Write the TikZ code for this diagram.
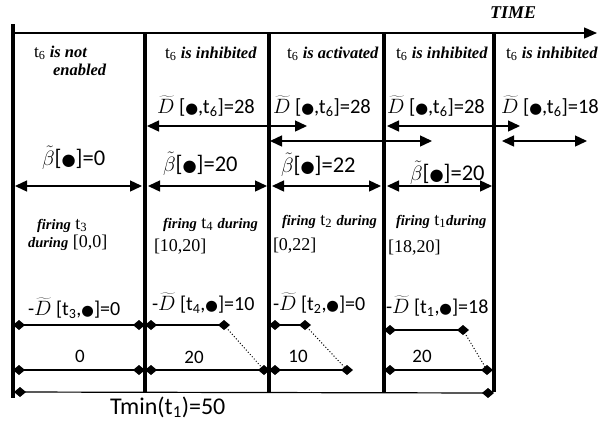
\documentclass[tikz,border=0pt]{standalone}
\usepackage{fontspec}
\usepackage{graphicx}
\setmainfont{Liberation Serif}
\setsansfont{Carlito}
\newfontfamily\symfont{DejaVu Sans}
\usetikzlibrary{arrows.meta}

% filled dot used inside the interval labels
\newcommand{\bul}{{\symfont\scalebox{0.72}{●}}}
\newcommand{\Dt}{$\widetilde{D}$}
\newcommand{\Bt}{$\tilde{\beta}$}
\newcommand{\headit}{\fontsize{16.5}{18}\selectfont\bfseries\itshape}
\newcommand{\fireit}{\fontsize{14.5}{16}\selectfont\bfseries\itshape}

\tikzset{
  bar/.style={line width=4.5pt},
  axis/.style={line width=1.3pt,-{Triangle[length=13pt,width=11pt]}},
  span/.style={line width=1.4pt,{Triangle[length=12pt,width=11pt]}-{Triangle[length=12pt,width=11pt]}},
  seg/.style={line width=1.2pt,{Diamond[length=12pt,width=10pt]}-{Diamond[length=12pt,width=10pt]}},
  link/.style={line width=1pt,dotted},
  lbl/.style={anchor=base west,inner sep=0pt,outer sep=0pt},
  head/.style={lbl,font=\fontsize{17.5}{19}\selectfont},
  dlbl/.style={lbl,font=\sffamily\fontsize{20.5}{22}\selectfont},
  blbl/.style={lbl,font=\sffamily\fontsize{22.5}{24}\selectfont},
  flbl/.style={lbl,font=\fontsize{18}{20}\selectfont},
  mlbl/.style={lbl,font=\sffamily\fontsize{20}{22}\selectfont},
  num/.style={anchor=base,inner sep=0pt,font=\sffamily\fontsize{19}{21}\selectfont},
}

\begin{document}
\begin{tikzpicture}[x=1pt,y=-1pt]
\useasboundingbox (0,0) rectangle (599,421);

% ---- time axis
\coordinate (ax0) at (13,33);
\coordinate (ax1) at (597,33);
\draw[axis] (ax0) -- (ax1);
\node[anchor=base,inner sep=0pt,font=\fontsize{18}{20}\selectfont\bfseries\itshape] (time) at (513,18) {TIME};

% ---- instants (thick vertical bars)
\coordinate (v0t) at (13,24);  \coordinate (v0b) at (13,398);
\coordinate (v1t) at (145,33); \coordinate (v1b) at (145,392);
\coordinate (v2t) at (269,33); \coordinate (v2b) at (269,392);
\coordinate (v3t) at (384,33); \coordinate (v3b) at (384,392);
\coordinate (v4t) at (494,33); \coordinate (v4b) at (494,392);
\foreach \v in {v0,v1,v2,v3,v4} \draw[bar] (\v t) -- (\v b);

% ---- state of t6 in each interval
\node[head] (h1) at (34,57) {t\textsubscript{6} {\headit is not}};
\node[lbl,font=\headit] (h1b) at (53,75) {enabled};
\node[head] (h2) at (165,58) {t\textsubscript{6} {\headit is inhibited}};
\node[head] (h3) at (287,58) {t\textsubscript{6} {\headit is activated}};
\node[head] (h4) at (396,58) {t\textsubscript{6} {\headit is inhibited}};
\node[head] (h5) at (506,58) {t\textsubscript{6} {\headit is inhibited}};

% ---- D~[., t6] labels and their spans
\node[dlbl] (d2) at (157,113) {\Dt\ [\bul,t\textsubscript{6}]=28};
\node[dlbl] (d3) at (273,113) {\Dt\ [\bul,t\textsubscript{6}]=28};
\node[dlbl] (d4) at (387,113) {\Dt\ [\bul,t\textsubscript{6}]=28};
\node[dlbl] (d5) at (501,113) {\Dt\ [\bul,t\textsubscript{6}]=18};

\coordinate (da0) at (147,126); \coordinate (da1) at (307,126);
\coordinate (db0) at (387,126); \coordinate (db1) at (520,126);
\coordinate (dc0) at (270,141); \coordinate (dc1) at (432,141);
\coordinate (dd0) at (502,141); \coordinate (dd1) at (587,141);
\draw[span] (da0) -- (da1);
\draw[span] (db0) -- (db1);
\draw[span] (dc0) -- (dc1);
\draw[span] (dd0) -- (dd1);

% ---- beta~ labels and spans
\node[blbl] (b1) at (42,165) {\Bt[\bul]=0};
\node[blbl] (b2) at (163,171) {\Bt[\bul]=20};
\node[blbl] (b3) at (281,172) {\Bt[\bul]=22};
\node[blbl] (b4) at (410,180) {\Bt[\bul]=20};

\coordinate (ba0) at (15,186);  \coordinate (ba1) at (142,186);
\coordinate (bb0) at (148,186); \coordinate (bb1) at (267,186);
\coordinate (bc0) at (272,186); \coordinate (bc1) at (381,186);
\coordinate (bd0) at (387,186); \coordinate (bd1) at (492,186);
\draw[span] (ba0) -- (ba1);
\draw[span] (bb0) -- (bb1);
\draw[span] (bc0) -- (bc1);
\draw[span] (bd0) -- (bd1);

% ---- firing intervals
\node[flbl] (f1) at (37,229) {{\fireit firing} t\textsubscript{3}};
\node[flbl] (f1b) at (28,247) {{\fireit during} [0,0]};
\node[flbl] (f2) at (163,228) {{\fireit firing} t\textsubscript{4} {\fireit during}};
\node[flbl] (f2b) at (154,251) {[10,20]};
\node[flbl] (f3) at (282,225) {{\fireit firing} t\textsubscript{2} {\fireit during}};
\node[flbl] (f3b) at (273,250) {[0,22]};
\node[flbl] (f4) at (396,225) {{\fireit firing} t\textsubscript{1}{\fireit during}};
\node[flbl] (f4b) at (388,252) {[18,20]};

% ---- -D~[t, .] labels
\node[mlbl] (m1) at (28,315) {-\Dt\ [t\textsubscript{3},\bul]=0};
\node[mlbl] (m2) at (152,310) {-\Dt\ [t\textsubscript{4},\bul]=10};
\node[mlbl] (m3) at (273,310) {-\Dt\ [t\textsubscript{2},\bul]=0};
\node[mlbl] (m4) at (386,313) {-\Dt\ [t\textsubscript{1},\bul]=18};

% ---- upper segments
\coordinate (sa0) at (13,325);  \coordinate (sa1) at (145,325);
\coordinate (sb0) at (145,325); \coordinate (sb1) at (230,325);
\coordinate (sc0) at (269,325); \coordinate (sc1) at (311,325);
\coordinate (sd0) at (384,330); \coordinate (sd1) at (469,330);
\draw[seg] (sa0) -- (sa1);
\draw[seg] (sb0) -- (sb1);
\draw[seg] (sc0) -- (sc1);
\draw[seg] (sd0) -- (sd1);

% ---- lower segments
\coordinate (la0) at (13,370);  \coordinate (la1) at (145,370);
\coordinate (lb0) at (145,370); \coordinate (lb1) at (270,370);
\coordinate (lc0) at (269,370); \coordinate (lc1) at (353,370);
\coordinate (ld0) at (384,370); \coordinate (ld1) at (493,370);
\draw[seg] (la0) -- (la1);
\draw[seg] (lb0) -- (lb1);
\draw[seg] (lc0) -- (lc1);
\draw[seg] (ld0) -- (ld1);

% ---- dotted links between segment ends
\coordinate (ka0) at (224,325); \coordinate (ka1) at (264,370);
\coordinate (kb0) at (305,325); \coordinate (kb1) at (347,370);
\coordinate (kc0) at (463,330); \coordinate (kc1) at (487,370);
\draw[link] (ka0) -- (ka1);
\draw[link] (kb0) -- (kb1);
\draw[link] (kc0) -- (kc1);

% ---- durations
\node[num] (n1) at (80,362) {0};
\node[num] (n2) at (194,363) {20};
\node[num] (n3) at (298,362) {10};
\node[num] (n4) at (422,362) {20};

% ---- total
\coordinate (ta0) at (14,392); \coordinate (ta1) at (494,393);
\draw[seg] (ta0) -- (ta1);
\node[lbl,font=\sffamily\fontsize{24}{26}\selectfont] (tmin) at (110,414) {Tmin(t\textsubscript{1})=50};
\end{tikzpicture}
\end{document}
